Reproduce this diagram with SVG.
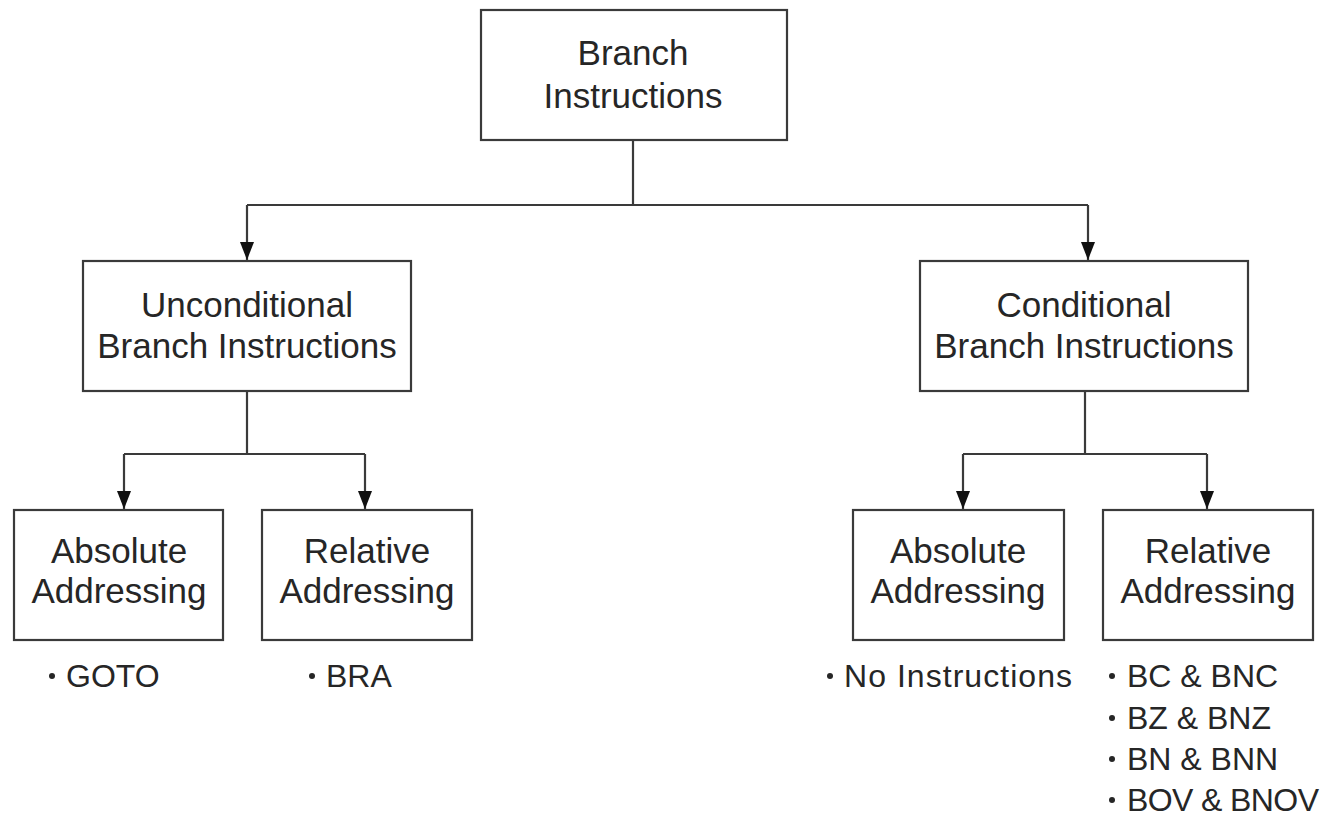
<svg xmlns="http://www.w3.org/2000/svg" width="1324" height="817" viewBox="0 0 1324 817">
  <style>
    .box { fill: #ffffff; stroke: #3a3a3a; stroke-width: 2.2; }
    .lbl { font-family: "Liberation Sans", Arial, sans-serif; font-size: 35px; fill: #262626; text-anchor: middle; }
    .item { font-family: "Liberation Sans", Arial, sans-serif; font-size: 32px; fill: #262626; }
    .dot { fill: #262626; }
    .wire { fill: none; stroke: #3a3a3a; stroke-width: 2.2; }
  </style>
  <defs>
    <marker id="arrow" viewBox="0 0 18 14" refX="18" refY="7" markerWidth="18" markerHeight="14" markerUnits="userSpaceOnUse" orient="auto">
      <path d="M0,0 L18,7 L0,14 Z" fill="#111"/>
    </marker>
  </defs>
  <rect width="1324" height="817" fill="#ffffff"/>

  <!-- connectors -->
  <g id="connectors">
    <path class="wire" d="M633,140 V205 M247,205 H1088"/>
    <path class="wire" d="M247,205 V260" marker-end="url(#arrow)"/>
    <path class="wire" d="M1088,205 V260" marker-end="url(#arrow)"/>

    <path class="wire" d="M247,391 V454 M124,454 H365"/>
    <path class="wire" d="M124,454 V509" marker-end="url(#arrow)"/>
    <path class="wire" d="M365,454 V509" marker-end="url(#arrow)"/>

    <path class="wire" d="M1085,391 V454 M963,454 H1207"/>
    <path class="wire" d="M963,454 V509" marker-end="url(#arrow)"/>
    <path class="wire" d="M1207,454 V509" marker-end="url(#arrow)"/>
  </g>

  <!-- root -->
  <g id="branch-instructions">
    <rect class="box" x="481" y="10" width="306" height="130"/>
    <text class="lbl" x="633" y="65">Branch</text>
    <text class="lbl" x="633" y="108">Instructions</text>
  </g>

  <!-- second level -->
  <g id="unconditional">
    <rect class="box" x="83" y="261" width="328" height="130"/>
    <text class="lbl" x="247" y="317">Unconditional</text>
    <text class="lbl" x="247" y="358">Branch Instructions</text>
  </g>
  <g id="conditional">
    <rect class="box" x="920" y="261" width="328" height="130"/>
    <text class="lbl" x="1084" y="317">Conditional</text>
    <text class="lbl" x="1084" y="358">Branch Instructions</text>
  </g>

  <!-- addressing modes, unconditional -->
  <g id="uncond-absolute">
    <rect class="box" x="14" y="510" width="209" height="130"/>
    <text class="lbl" x="119" y="563">Absolute</text>
    <text class="lbl" x="119" y="603">Addressing</text>
    <circle class="dot" cx="52" cy="676" r="3"/>
    <text class="item" x="66" y="687">GOTO</text>
  </g>
  <g id="uncond-relative">
    <rect class="box" x="262" y="510" width="210" height="130"/>
    <text class="lbl" x="367" y="563">Relative</text>
    <text class="lbl" x="367" y="603">Addressing</text>
    <circle class="dot" cx="312" cy="676" r="3"/>
    <text class="item" x="326" y="687">BRA</text>
  </g>

  <!-- addressing modes, conditional -->
  <g id="cond-absolute">
    <rect class="box" x="853" y="510" width="211" height="130"/>
    <text class="lbl" x="958" y="563">Absolute</text>
    <text class="lbl" x="958" y="603">Addressing</text>
    <circle class="dot" cx="830" cy="676" r="3"/>
    <text class="item" x="844" y="687" textLength="228">No Instructions</text>
  </g>
  <g id="cond-relative">
    <rect class="box" x="1103" y="510" width="210" height="130"/>
    <text class="lbl" x="1208" y="563">Relative</text>
    <text class="lbl" x="1208" y="603">Addressing</text>
    <circle class="dot" cx="1112" cy="676" r="3"/>
    <text class="item" x="1127" y="687">BC &amp; BNC</text>
    <circle class="dot" cx="1112" cy="718" r="3"/>
    <text class="item" x="1127" y="729">BZ &amp; BNZ</text>
    <circle class="dot" cx="1112" cy="759" r="3"/>
    <text class="item" x="1127" y="770">BN &amp; BNN</text>
    <circle class="dot" cx="1112" cy="800" r="3"/>
    <text class="item" x="1127" y="811" textLength="192">BOV &amp; BNOV</text>
  </g>
</svg>
